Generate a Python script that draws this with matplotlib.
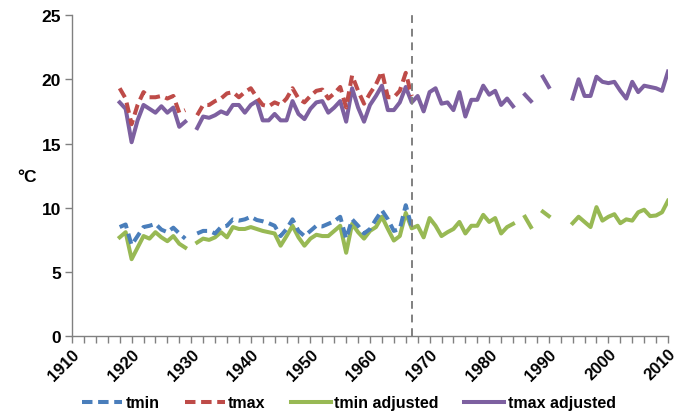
import numpy as np
import matplotlib
matplotlib.use("Agg")
import matplotlib.pyplot as plt
from matplotlib.ticker import MultipleLocator

nan = np.nan
years = list(range(1918, 2011))

tmin = [8.5, 8.7, 7.1, 7.8, 8.5, 8.6, 8.75, 8.3, 8.1, 8.45, 8.0, 7.6,
        nan,
        8.0, 8.2, 8.2, 8.0, 8.5, 8.6, 9.1, 9.0, 9.1, 9.3,
        9.05, 8.95, 8.8, 8.6, 7.8, 8.35, 9.1, 8.2, 7.8, 8.2,
        8.6, 8.55, 8.75, 8.95, 9.3, 7.6, 9.1, 8.6, 8.0, 8.35,
        9.1, 9.8, 9.1, 8.2, 8.35, 10.2, 8.5] + [nan] * 43

tmax = [19.3, 18.5, 16.5, 18.0, 19.0, 18.6, 18.6, 18.7, 18.5, 18.7, 17.4, 17.6,
        nan,
        17.2, 18.0, 18.0, 18.3, 18.5, 18.9, 19.0, 18.6, 19.0, 19.3,
        18.6, 18.0, 17.9, 18.2, 18.0, 18.5, 19.3, 18.5, 18.2, 18.7,
        19.1, 19.2, 18.5, 18.9, 19.4, 17.8, 20.3, 19.1, 18.1, 18.9,
        19.6, 20.6, 18.6, 18.6, 19.1, 20.5, 18.7] + [nan] * 43

tmin_adj = [7.7, 8.1, 6.0, 6.9, 7.8, 7.6, 8.1, 7.7, 7.4, 7.8, 7.2, 6.9,
            nan,
            7.3, 7.6, 7.5, 7.7, 8.1, 7.7, 8.5, 8.35, 8.35, 8.5,
            8.35, 8.2, 8.1, 8.0, 7.05, 7.8, 8.6, 7.7, 7.05, 7.6,
            7.9, 7.8, 7.8, 8.2, 8.6, 6.5, 8.75, 8.1, 7.6, 8.2,
            8.5, 9.3, 8.35, 7.45, 7.8, 9.6, 8.4, 8.6, 7.7, 9.2,
            8.6, 7.8, 8.1, 8.35, 8.9, 8.0, 8.6, 8.6, 9.45, 8.9,
            9.2, 8.0, 8.5, 8.75, nan, 9.3, 8.5, nan, 9.7, 9.35,
            nan, nan, nan, 8.8, 9.3, 8.9, 8.5, 10.05, 9.0, 9.3,
            9.5, 8.8, 9.1, 9.0, 9.65, 9.85, 9.35, 9.4, 9.65, 10.55]

tmax_adj = [18.2, 17.7, 15.1, 16.8, 18.0, 17.7, 17.4, 17.9, 17.4, 17.8, 16.3, 16.7,
            nan,
            16.2, 17.1, 17.0, 17.2, 17.5, 17.3, 18.0, 18.0, 17.4, 18.0,
            18.3, 16.8, 16.8, 17.3, 16.8, 16.8, 18.3, 17.3, 16.9, 17.7,
            18.2, 18.3, 17.4, 17.8, 18.3, 16.7, 19.3, 17.8, 16.7, 18.0,
            18.7, 19.5, 17.6, 17.6, 18.2, 19.4, 18.2, 18.7, 17.5, 19.0,
            19.3, 18.1, 18.2, 17.6, 19.0, 17.1, 18.4, 18.4, 19.5, 18.8,
            19.1, 18.0, 18.5, 17.9, nan, 18.8, 18.3, nan, 20.2, 19.4,
            nan, nan, nan, 18.5, 20.0, 18.7, 18.7, 20.2, 19.8, 19.7,
            19.8, 19.1, 18.5, 19.8, 19.0, 19.5, 19.4, 19.3, 19.1, 20.6]

break_year = 1967
xticks = list(range(1910, 2011, 10))
yticks = [0, 5, 10, 15, 20, 25]

plt.rcParams['font.family'] = ['Liberation Sans', 'DejaVu Sans']

fig = plt.figure(figsize=(6.83, 4.14), dpi=100)
ax = fig.add_axes([72 / 683, 1 - 337.3 / 414, (668 - 72) / 683, (337.3 - 16) / 414])

lw = 2.9
dash = (0, (2.6, 1.4))
ax.plot(years, tmin_adj, color='#98B954', lw=lw, label='tmin adjusted', solid_joinstyle='round')
ax.plot(years, tmax_adj, color='#7D60A0', lw=lw, label='tmax adjusted', solid_joinstyle='round')
ax.plot(years, tmin, color='#4A7EBB', lw=lw, ls=dash, label='tmin')
ax.plot(years, tmax, color='#BE4B48', lw=lw, ls=dash, label='tmax')

ax.plot([break_year, break_year], [0, 25], color='#808080', lw=1.4, ls=(0, (4, 3)))

ax.set_xlim(1910, 2010)
ax.set_ylim(0, 25)
ax.set_xticks(xticks)
ax.xaxis.set_minor_locator(MultipleLocator(2))
ax.set_yticks(yticks)
for s in ['top', 'right']:
    ax.spines[s].set_visible(False)
for s in ['left', 'bottom']:
    ax.spines[s].set_color('#808080')
    ax.spines[s].set_linewidth(1.0)
ax.tick_params(axis='both', which='both', direction='out', color='#808080', width=1.0)
ax.tick_params(axis='x', which='major', length=5, labelsize=12, pad=2)
ax.tick_params(axis='x', which='minor', length=5)
ax.tick_params(axis='y', length=5, labelsize=12.5, pad=3)
for lab in ax.get_xticklabels():
    lab.set_rotation(45)
    lab.set_ha('right')
    lab.set_rotation_mode('anchor')
    lab.set_fontweight('bold')
for lab in ax.get_yticklabels():
    lab.set_fontweight('bold')

fig.text(27 / 683, 1 - 178 / 414, '°C', fontsize=12.5, fontweight='bold', ha='center', va='center')

h, l = ax.get_legend_handles_labels()
order = [2, 3, 0, 1]
fig.legend([h[i] for i in order], [l[i] for i in order], loc='center', ncol=4,
           bbox_to_anchor=(0.511, 1 - 404 / 414), frameon=False,
           prop={'size': 11.5, 'weight': 'bold'}, handlelength=2.5,
           handletextpad=0.2, columnspacing=1.6)

fig.savefig('out.png', dpi=100)
